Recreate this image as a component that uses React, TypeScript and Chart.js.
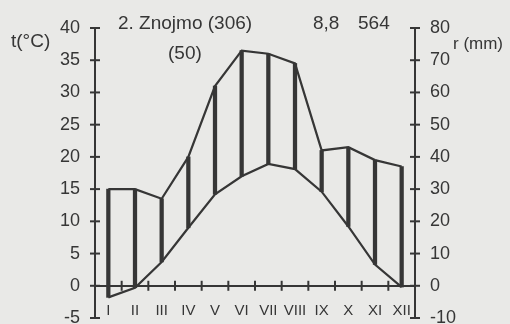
import React, { useEffect, useRef } from "react";
import { Chart, registerables } from "chart.js";

Chart.register(...registerables);

const months = ["I", "II", "III", "IV", "V", "VI", "VII", "VIII", "IX", "X", "XI", "XII"];
const temperature = [-1.8, -0.3, 3.7, 9.0, 14.2, 17.0, 18.9, 18.1, 14.6, 9.2, 3.3, -0.2];
const precipitation = [30, 30, 27, 40, 62, 73, 72, 69, 42, 43, 39, 37];
const tempTicks = { min: -5, max: 40, step: 5 };
const rainTicks = { min: -10, max: 80, step: 10 };

const INK = "#363636";
const BG = "#e9e9e7";
const FONT = "'Liberation Sans', Arial, sans-serif";

const crossTicks = {
  id: "crossTicks",
  afterDraw(chart: any) {
    const ctx = chart.ctx;
    const { x, y, y2 } = chart.scales;
    const area = chart.chartArea;
    ctx.save();
    ctx.strokeStyle = INK;
    ctx.lineWidth = 2;
    const seg = (x1: number, y1: number, x2: number, yy2: number) => {
      ctx.beginPath();
      ctx.moveTo(x1, y1);
      ctx.lineTo(x2, yy2);
      ctx.stroke();
    };
    y.ticks.forEach((t: any) => {
      const py = y.getPixelForValue(t.value);
      seg(area.left - 5, py, area.left + 5, py);
    });
    y2.ticks.forEach((t: any) => {
      const py = y2.getPixelForValue(t.value);
      seg(area.right - 5, py, area.right + 5, py);
    });
    const py0 = y.getPixelForValue(0);
    for (let i = 0; i < months.length - 1; i++) {
      const px = x.getPixelForValue(i + 0.5);
      seg(px, py0 - 5, px, py0 + 5);
    }
    ctx.restore();
  },
};

function fitAxis(scale: any) {
  scale.width = 95;
  scale.paddingTop = 0;
  scale.paddingBottom = 0;
}

const texts = [
  { t: "t(°C)", left: 11, cy: 40, size: 19 },
  { t: "2. Znojmo (306)", left: 118, cy: 22, size: 19 },
  { t: "(50)", left: 168, cy: 52, size: 19 },
  { t: "8,8", left: 313, cy: 22, size: 19 },
  { t: "564", left: 358, cy: 22, size: 19 },
  { t: "r (mm)", left: 453, cy: 43, size: 17 },
];

export default function App() {
  const ref = useRef<HTMLCanvasElement | null>(null);

  useEffect(() => {
    if (!ref.current) return;
    const chart = new Chart(ref.current, {
      type: "bar",
      data: {
        labels: months,
        datasets: [
          {
            type: "line",
            data: temperature,
            yAxisID: "y",
            borderColor: INK,
            borderWidth: 2.2,
            pointRadius: 0,
            tension: 0,
            fill: false,
          } as any,
          {
            type: "line",
            data: precipitation,
            yAxisID: "y2",
            borderColor: INK,
            borderWidth: 2.2,
            pointRadius: 0,
            tension: 0,
            fill: false,
          } as any,
          {
            type: "bar",
            data: precipitation.map((p, i) => [temperature[i] * 2, p]),
            yAxisID: "y2",
            backgroundColor: INK,
            borderWidth: 0,
            borderSkipped: false,
            barThickness: 3.6,
          } as any,
        ],
      },
      options: {
        responsive: false,
        animation: false,
        layout: { padding: { left: 0, right: 0, top: 28, bottom: 6 } },
        plugins: { legend: { display: false }, tooltip: { enabled: false } },
        scales: {
          x: {
            type: "category",
            position: { y: 0 } as any,
            offset: true,
            grid: { display: true, drawOnChartArea: false, drawTicks: false, offset: true },
            border: { display: true, color: INK, width: 2 },
            ticks: {
              color: INK,
              font: { family: FONT, size: 15 },
              padding: 16,
              autoSkip: false,
              maxRotation: 0,
            },
          },
          y: {
            type: "linear",
            position: "left",
            min: tempTicks.min,
            max: tempTicks.max,
            afterFit: fitAxis,
            grid: { drawOnChartArea: false, drawTicks: true, tickLength: 12, tickColor: "rgba(0,0,0,0)" },
            border: { display: true, color: INK, width: 2 },
            ticks: {
              stepSize: tempTicks.step,
              padding: 3,
              color: INK,
              font: { family: FONT, size: 18, lineHeight: 1 },
            },
          },
          y2: {
            type: "linear",
            position: "right",
            min: rainTicks.min,
            max: rainTicks.max,
            afterFit: fitAxis,
            grid: { drawOnChartArea: false, drawTicks: true, tickLength: 12, tickColor: "rgba(0,0,0,0)" },
            border: { display: true, color: INK, width: 2 },
            ticks: {
              stepSize: rainTicks.step,
              padding: 3,
              color: INK,
              font: { family: FONT, size: 18, lineHeight: 1 },
            },
          },
        },
      },
      plugins: [crossTicks],
    });
    return () => chart.destroy();
  }, []);

  return (
    <div
      style={{
        position: "fixed",
        left: 0,
        top: 0,
        width: 510,
        height: 324,
        background: BG,
        overflow: "hidden",
        fontFamily: FONT,
        color: INK,
      }}
    >
      <canvas ref={ref} width={510} height={324} style={{ position: "absolute", left: 0, top: 0 }} />
      {texts.map((d) => (
        <span
          key={d.t}
          style={{
            position: "absolute",
            left: d.left,
            top: d.cy - d.size / 2,
            fontSize: d.size,
            lineHeight: 1,
            whiteSpace: "nowrap",
          }}
        >
          {d.t}
        </span>
      ))}
    </div>
  );
}
